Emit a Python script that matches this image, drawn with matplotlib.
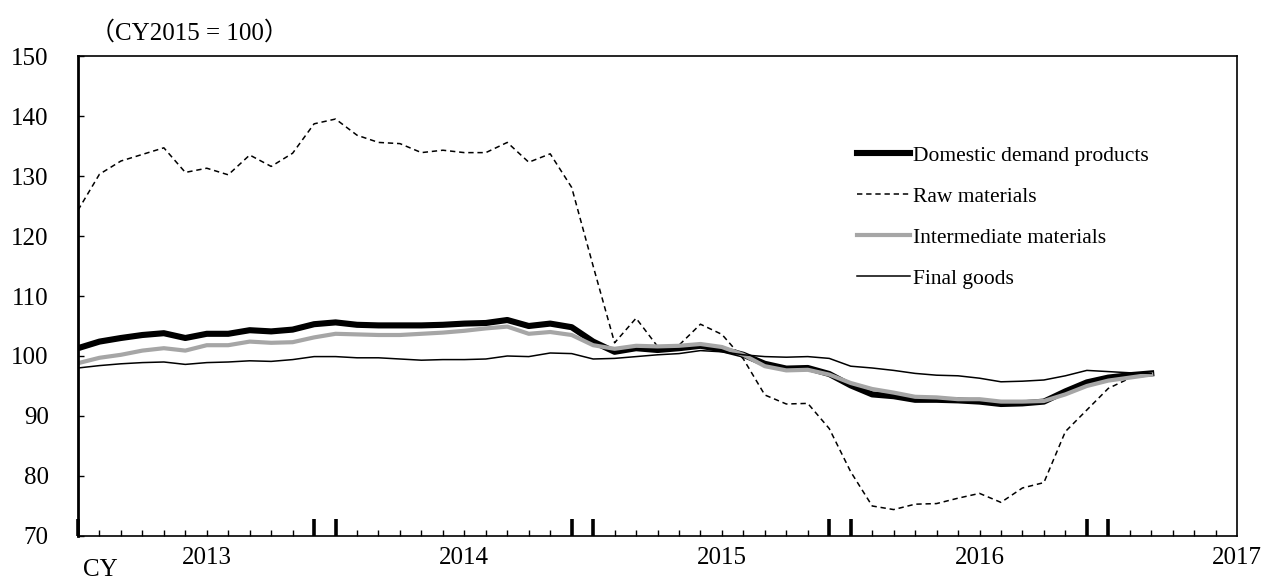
import matplotlib
matplotlib.use("Agg")
import matplotlib.pyplot as plt
from matplotlib.ticker import FixedLocator

# monthly index values, Jan 2013 .. Mar 2017 (CY2015 = 100)
domestic = [101.3, 102.4, 103.0, 103.5, 103.8, 103.0, 103.7, 103.7, 104.3, 104.1, 104.4,
            105.3, 105.6, 105.2, 105.1, 105.1, 105.1, 105.2, 105.4, 105.5, 106.0, 105.0, 105.4, 104.8,
            102.4, 100.7, 101.3, 101.0, 101.3, 101.7, 101.1, 100.2, 98.7, 97.9, 98.0, 97.0,
            95.1, 93.6, 93.3, 92.7, 92.7, 92.6, 92.4, 92.0, 92.1, 92.4, 94.1, 95.6, 96.4, 96.8, 97.1]
raw = [124.3, 130.3, 132.5, 133.6, 134.7, 130.6, 131.3, 130.2, 133.5, 131.6, 133.8,
       138.7, 139.5, 136.8, 135.6, 135.4, 133.9, 134.3, 133.9, 133.9, 135.6, 132.3, 133.7, 128.1,
       115.0, 102.2, 106.3, 101.6, 101.8, 105.3, 103.6, 99.5, 93.5, 92.0, 92.1, 87.9,
       80.7, 75.0, 74.4, 75.3, 75.4, 76.3, 77.1, 75.6, 78.0, 78.9, 87.4, 91.0, 94.6, 96.3, 97.0]
intermediate = [98.8, 99.7, 100.2, 100.9, 101.3, 100.9, 101.8, 101.8, 102.4, 102.2, 102.3,
                103.1, 103.7, 103.6, 103.5, 103.5, 103.7, 103.9, 104.2, 104.6, 104.9, 103.7, 104.0, 103.5,
                101.8, 101.2, 101.7, 101.6, 101.7, 102.0, 101.5, 100.2, 98.3, 97.6, 97.7, 96.9,
                95.5, 94.5, 93.9, 93.2, 93.1, 92.8, 92.8, 92.4, 92.4, 92.5, 93.6, 95.0, 95.9, 96.4, 96.9]
final_goods = [98.0, 98.4, 98.7, 98.9, 99.0, 98.6, 98.9, 99.0, 99.2, 99.1, 99.4,
               99.9, 99.9, 99.7, 99.7, 99.5, 99.3, 99.4, 99.4, 99.5, 100.0, 99.9, 100.5, 100.4,
               99.5, 99.6, 99.9, 100.2, 100.4, 100.9, 100.7, 100.2, 99.9, 99.8, 99.9, 99.6,
               98.3, 98.0, 97.6, 97.1, 96.8, 96.7, 96.3, 95.7, 95.8, 96.0, 96.7, 97.6, 97.4, 97.2, 97.1]

years = ["2013", "2014", "2015", "2016", "2017"]
n_months = 54

plt.rcParams["font.family"] = ["Liberation Serif", "Noto Sans CJK JP"]

fig = plt.figure(figsize=(12.64, 5.8), dpi=100)
ax = fig.add_axes([0.0617, 0.0759, 0.9170, 0.8275])

x = list(range(len(domestic)))
ax.plot(x, domestic, color="black", lw=4.4, label="Domestic demand products", solid_joinstyle="round")
ax.plot(x, raw, color="black", lw=1.1, ls=(0, (3.5, 2.5)), label="Raw materials")
ax.plot(x, intermediate, color="#a6a6a6", lw=3.0, label="Intermediate materials", solid_joinstyle="round")
ax.plot(x, final_goods, color="black", lw=1.1, label="Final goods")

ax.set_xlim(0, n_months)
ax.set_ylim(70, 150)
ax.set_yticks(range(70, 151, 10))
ax.tick_params(axis="y", direction="in", length=4.5, width=1, labelsize=18, pad=21)

# year boundaries drawn as pairs of heavy ticks, monthly minor ticks
big = [0]
for k in range(1, 5):
    big += [12 * k - 1, 12 * k]
small = [m for m in range(1, n_months) if m not in big]
ax.xaxis.set_major_locator(FixedLocator(big))
ax.xaxis.set_minor_locator(FixedLocator(small))
ax.set_xticklabels([])
ax.tick_params(axis="x", which="major", direction="in", length=12, width=2.6)
ax.tick_params(axis="x", which="minor", direction="in", length=4.5, width=1)

for i, year in enumerate(years):
    ax.text(6 + 12 * i, -0.045, year, transform=ax.get_xaxis_transform(),
            ha="center", va="center", fontsize=18, clip_on=False)
fig.text(100 / 1264, 1 - 570 / 580, "CY", ha="center", va="center", fontsize=18)
fig.text(90 / 1264, 1 - 33 / 580, "（CY2015 = 100）", ha="left", va="center", fontsize=18)

for side in ["top", "right", "bottom"]:
    ax.spines[side].set_linewidth(1.2)
ax.spines["left"].set_linewidth(2.0)

ax.legend(loc="upper left", bbox_to_anchor=(848 / 1264, 1 - 137 / 580),
          bbox_transform=fig.transFigure, frameon=False, fontsize=15.5,
          handlelength=2.5, handletextpad=0.1, labelspacing=0.97, borderaxespad=0)

fig.savefig("out.png", dpi=100)
